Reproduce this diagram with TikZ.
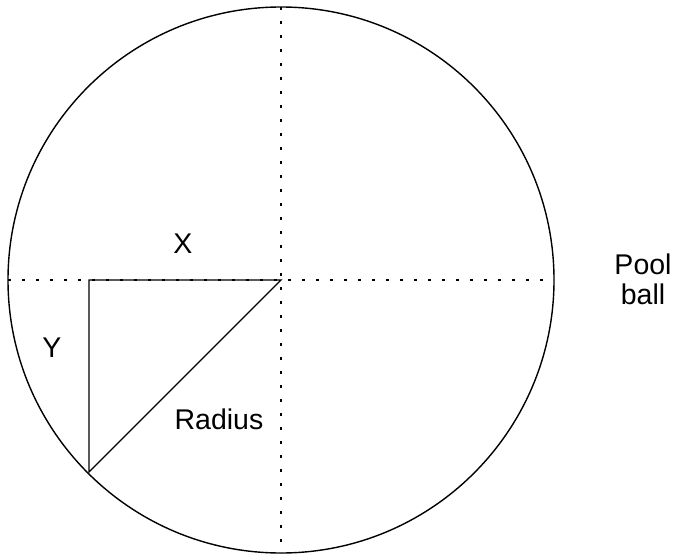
\documentclass[tikz,border=0pt]{standalone}
\usepackage{fontspec}
\setmainfont{Liberation Sans}
\begin{document}
\begin{tikzpicture}[x=1pt,y=-1pt,
  dotline/.style={line width=2.6pt,dash pattern=on 2.6pt off 11.4pt},
  solidline/.style={line width=1.4pt},
  lbl/.style={font=\fontsize{28.5}{30}\selectfont,inner sep=0pt}]
\useasboundingbox (0,0) rectangle (676,556);
\coordinate (c) at (281,280);
\node[draw,line width=1.4pt,circle,minimum size=546pt,inner sep=0pt] (ball) at (c) {};
\coordinate (l) at (8,280);
\coordinate (r) at (554,280);
\coordinate (t) at (281,7);
\coordinate (b) at (281,553);
\draw[dotline] (l) -- (r);
\draw[dotline] (t) -- (b);
\coordinate (a) at (89,280);
\coordinate (p) at (89,472);
\draw[solidline] (c) -- (a) -- (p) -- cycle;
\node[lbl] (xl) at (183,244) {X};
\node[lbl] (yl) at (52,348) {Y};
\node[lbl] (rl) at (219,419) {Radius};
\node[lbl,align=center] (pb) at (643,279) {Pool\\ball};
\end{tikzpicture}
\end{document}
